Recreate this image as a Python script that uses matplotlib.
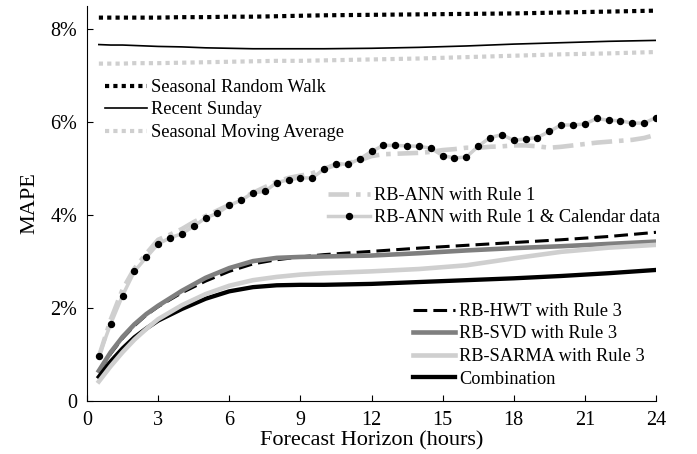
import numpy as np
import matplotlib
matplotlib.use('Agg')
import matplotlib.pyplot as plt

plt.rcParams['font.family'] = ['Liberation Serif', 'DejaVu Serif']

# Half-hourly horizons for the RB-ANN curves.
hours_half = np.arange(0.5, 24.01, 0.5)
ann_rule1 = [0.95, 1.75, 2.40, 2.85, 3.17, 3.47, 3.58, 3.70, 3.85, 3.98,
             4.10, 4.22, 4.35, 4.48, 4.60, 4.72, 4.80, 4.85, 4.90, 5.00,
             5.08, 5.12, 5.18, 5.27, 5.31, 5.32, 5.33, 5.34, 5.36, 5.40,
             5.42, 5.45, 5.45, 5.47, 5.48, 5.50, 5.50, 5.48, 5.45, 5.47,
             5.50, 5.53, 5.56, 5.58, 5.60, 5.62, 5.66, 5.73]
ann_calendar = [0.97, 1.66, 2.27, 2.79, 3.09, 3.38, 3.51, 3.60, 3.76, 3.94,
                4.04, 4.21, 4.32, 4.48, 4.51, 4.70, 4.76, 4.80, 4.80, 4.99,
                5.11, 5.09, 5.21, 5.37, 5.50, 5.50, 5.49, 5.48, 5.44, 5.28,
                5.23, 5.25, 5.48, 5.67, 5.73, 5.61, 5.64, 5.67, 5.80, 5.94,
                5.94, 5.96, 6.08, 6.04, 6.03, 5.98, 5.98, 6.10]

# Smooth curves are read at these horizons.
hours = [0.5, 1, 1.5, 2, 2.5, 3, 4, 5, 6, 7, 8, 9, 10, 12, 14, 16, 18, 20, 22, 24]
seasonal_rw = [8.25, 8.25, 8.25, 8.25, 8.25, 8.25, 8.26, 8.26, 8.27, 8.27,
               8.28, 8.29, 8.30, 8.31, 8.32, 8.33, 8.34, 8.36, 8.38, 8.40]
recent_sunday = [7.67, 7.66, 7.66, 7.65, 7.64, 7.63, 7.62, 7.60, 7.59, 7.58,
                 7.58, 7.58, 7.58, 7.59, 7.61, 7.64, 7.68, 7.71, 7.74, 7.76]
seasonal_ma = [7.26, 7.26, 7.26, 7.27, 7.27, 7.27, 7.28, 7.29, 7.30, 7.31,
               7.32, 7.32, 7.33, 7.35, 7.37, 7.40, 7.43, 7.46, 7.48, 7.51]
hwt = [0.62, 1.02, 1.35, 1.62, 1.85, 2.03, 2.33, 2.58, 2.79, 2.95,
       3.04, 3.10, 3.15, 3.22, 3.29, 3.35, 3.41, 3.47, 3.54, 3.63]
svd = [0.65, 1.05, 1.38, 1.65, 1.87, 2.05, 2.37, 2.65, 2.86, 3.01,
       3.08, 3.10, 3.11, 3.13, 3.18, 3.24, 3.29, 3.33, 3.38, 3.43]
sarma = [0.42, 0.75, 1.05, 1.32, 1.55, 1.76, 2.06, 2.30, 2.48, 2.60,
         2.67, 2.72, 2.75, 2.79, 2.84, 2.92, 3.07, 3.21, 3.30, 3.36]
combination = [0.52, 0.85, 1.13, 1.37, 1.56, 1.73, 1.98, 2.20, 2.36, 2.45,
               2.49, 2.50, 2.50, 2.52, 2.56, 2.60, 2.64, 2.69, 2.75, 2.82]

x_ticks = [0, 3, 6, 9, 12, 15, 18, 21, 24]
y_ticks = [0, 2, 4, 6, 8]
y_tick_labels = ['0', '2%', '4%', '6%', '8%']

light = '#cfcfcf'
mid = '#7f7f7f'

fig = plt.figure(figsize=(6.97, 4.54), dpi=100)
ax = fig.add_axes([87 / 697, 1 - 401 / 454, 569 / 697, 395 / 454])

# Benchmarks at the top.
l_srw, = ax.plot(hours, seasonal_rw, color='black', lw=3, dashes=(1, 1),
                 dash_capstyle='butt', label='Seasonal Random Walk')
l_rs, = ax.plot(hours, recent_sunday, color='black', lw=1.2,
                label='Recent Sunday')
l_sma, = ax.plot(hours, seasonal_ma, color=light, lw=3, dashes=(1, 1),
                 dash_capstyle='butt', label='Seasonal Moving Average')

# RB-ANN curves.
l_ann, = ax.plot(hours_half, ann_rule1, color=light, lw=3.3,
                 dashes=(4.5, 1.5, 1, 1.5), label='RB-ANN with Rule 1')
l_cal, = ax.plot(hours_half, ann_calendar, color=light, lw=2.5, marker='o',
                 markersize=4.3, markerfacecolor='black',
                 markeredgecolor='black',
                 label='RB-ANN with Rule 1 & Calendar data')

# Rule 3 models.
l_hwt, = ax.plot(hours, hwt, color='black', lw=2.2, dashes=(4.5, 2),
                 label='RB-HWT with Rule 3')
l_svd, = ax.plot(hours, svd, color=mid, lw=3.3, label='RB-SVD with Rule 3')
l_comb, = ax.plot(hours, combination, color='black', lw=3.1,
                  label='Combination')
l_sarma, = ax.plot(hours, sarma, color=light, lw=3.3,
                   label='RB-SARMA with Rule 3')

ax.set_xlim(0, 24)
ax.set_ylim(0, 8.5)
ax.set_xticks(x_ticks)
ax.set_yticks(y_ticks)
ax.set_yticklabels(y_tick_labels)
ax.tick_params(direction='in', length=4, labelsize=14.5, pad=7)
ax.spines['top'].set_visible(False)
ax.spines['right'].set_visible(False)
ax.set_xlabel('Forecast Horizon (hours)', fontsize=16, labelpad=1)
ax.set_ylabel('MAPE', fontsize=16, labelpad=8)

leg_kw = dict(frameon=False, fontsize=13.2, handlelength=2.3,
              handletextpad=0.2, labelspacing=0.3, borderpad=0,
              borderaxespad=0, loc='upper left', bbox_transform=fig.transFigure)

leg1 = ax.legend(handles=[l_srw, l_rs, l_sma],
                 bbox_to_anchor=(105 / 697, 1 - 79 / 454), **leg_kw)
ax.add_artist(leg1)
leg2 = ax.legend(handles=[l_ann, l_cal], numpoints=1,
                 bbox_to_anchor=(328 / 697, 1 - 187 / 454), **leg_kw)
ax.add_artist(leg2)
ax.legend(handles=[l_hwt, l_svd, l_sarma, l_comb],
          bbox_to_anchor=(413 / 697, 1 - 303 / 454), **leg_kw)

fig.savefig('out.png', dpi=100)
